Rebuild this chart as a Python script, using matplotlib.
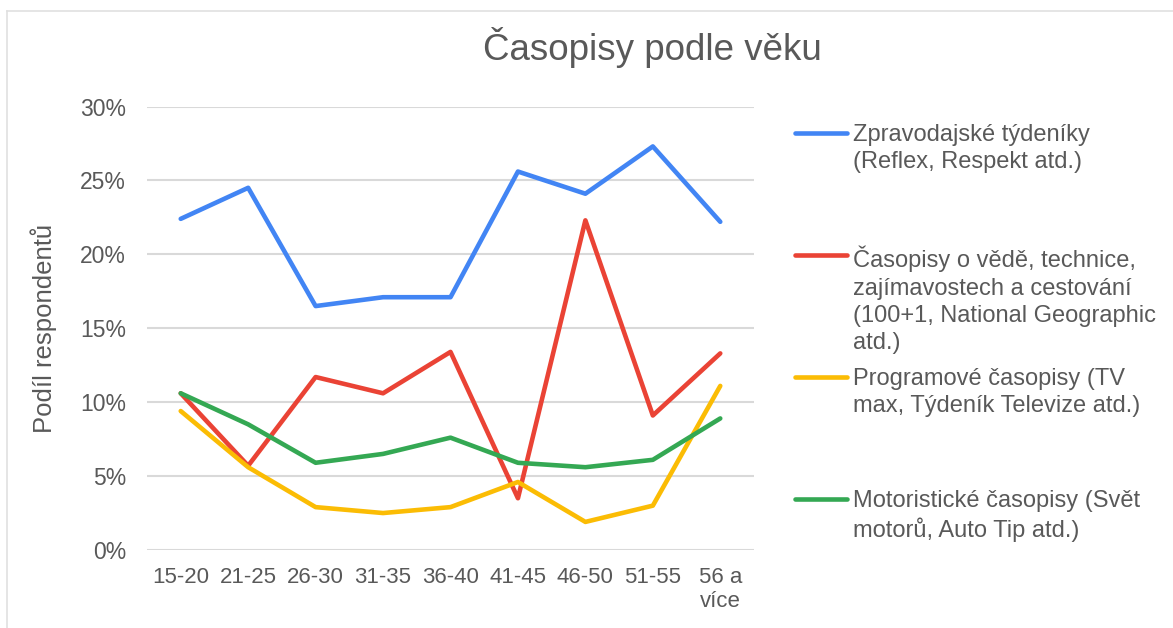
import matplotlib
matplotlib.use("Agg")
import matplotlib.pyplot as plt
from matplotlib.lines import Line2D
from matplotlib.ticker import FuncFormatter, MultipleLocator

plt.rcParams['font.family'] = ['Liberation Sans', 'DejaVu Sans']

# věkové kategorie
vek = ["15-20", "21-25", "26-30", "31-35", "36-40", "41-45", "46-50", "51-55", "56 a\nvíce"]

# podíl respondentů v %
zpravodajske = [22.4, 24.5, 16.5, 17.1, 17.1, 25.6, 24.1, 27.3, 22.2]
veda = [10.6, 5.7, 11.7, 10.6, 13.4, 3.5, 22.3, 9.1, 13.3]
programove = [9.4, 5.6, 2.9, 2.5, 2.9, 4.6, 1.9, 3.0, 11.1]
motoristicke = [10.6, 8.5, 5.9, 6.5, 7.6, 5.9, 5.6, 6.1, 8.9]

nazvy = [
    "Zpravodajské týdeníky\n(Reflex, Respekt atd.)",
    "Časopisy o vědě, technice,\nzajímavostech a cestování\n(100+1, National Geographic\natd.)",
    "Programové časopisy (TV\nmax, Týdeník Televize atd.)",
    "Motoristické časopisy (Svět\nmotorů, Auto Tip atd.)",
]
barvy = ["#4285F4", "#EA4335", "#FBBC04", "#34A853"]
serie = [zpravodajske, veda, programove, motoristicke]

text_barva = "#595959"
W, H = 1173, 628

fig = plt.figure(figsize=(W / 100, H / 100), dpi=100)
ax = fig.add_axes([147 / W, 78 / H, 607 / W, 443.5 / H])

x = range(len(vek))
for hodnoty, barva in zip(serie, barvy):
    ax.plot(x, hodnoty, color=barva, lw=3.3, solid_capstyle='round',
            solid_joinstyle='round', zorder=3)

ax.set_xlim(-0.5, len(vek) - 0.5)
ax.set_ylim(0, 30)
ax.yaxis.set_major_locator(MultipleLocator(5))
ax.yaxis.set_major_formatter(FuncFormatter(lambda v, p: f"{v:.0f}%"))
ax.set_xticks(list(x))
ax.set_xticklabels(vek)
ax.grid(axis='y', color='#d9d9d9', lw=1.5)
ax.set_axisbelow(True)
for s in ax.spines.values():
    s.set_visible(False)
ax.tick_params(axis='both', length=0, labelsize=16, labelcolor=text_barva)
ax.tick_params(axis='y', labelsize=16.5, pad=15)
ax.tick_params(axis='x', pad=12)

ax.set_ylabel("Podíl respondentů", fontsize=18.5, color=text_barva)
ax.yaxis.set_label_coords((57 - 147) / 607, 0.5)

fig.text(652 / W, 1 - 48 / H, "Časopisy podle věku", fontsize=26.5,
         color=text_barva, ha='center', va='center')

# legenda vpravo
for i, (nazev, barva) in enumerate(zip(nazvy, barvy)):
    yy = 133 + i * 122
    fig.add_artist(Line2D([795 / W, 847 / W], [1 - yy / H, 1 - yy / H],
                          color=barva, lw=3.3, solid_capstyle='round'))
    fig.text(853 / W, 1 - (yy - 9) / H, nazev, fontsize=17, color=text_barva,
             ha='left', va='top', linespacing=1.3)

# okraj grafu
fig.add_artist(Line2D([7 / W, 7 / W], [0, 1 - 10.5 / H], color='#e0e0e0', lw=1.2))
fig.add_artist(Line2D([7 / W, 1], [1 - 10.5 / H, 1 - 10.5 / H], color='#e0e0e0', lw=1.2))

fig.savefig("out.png", dpi=100)
